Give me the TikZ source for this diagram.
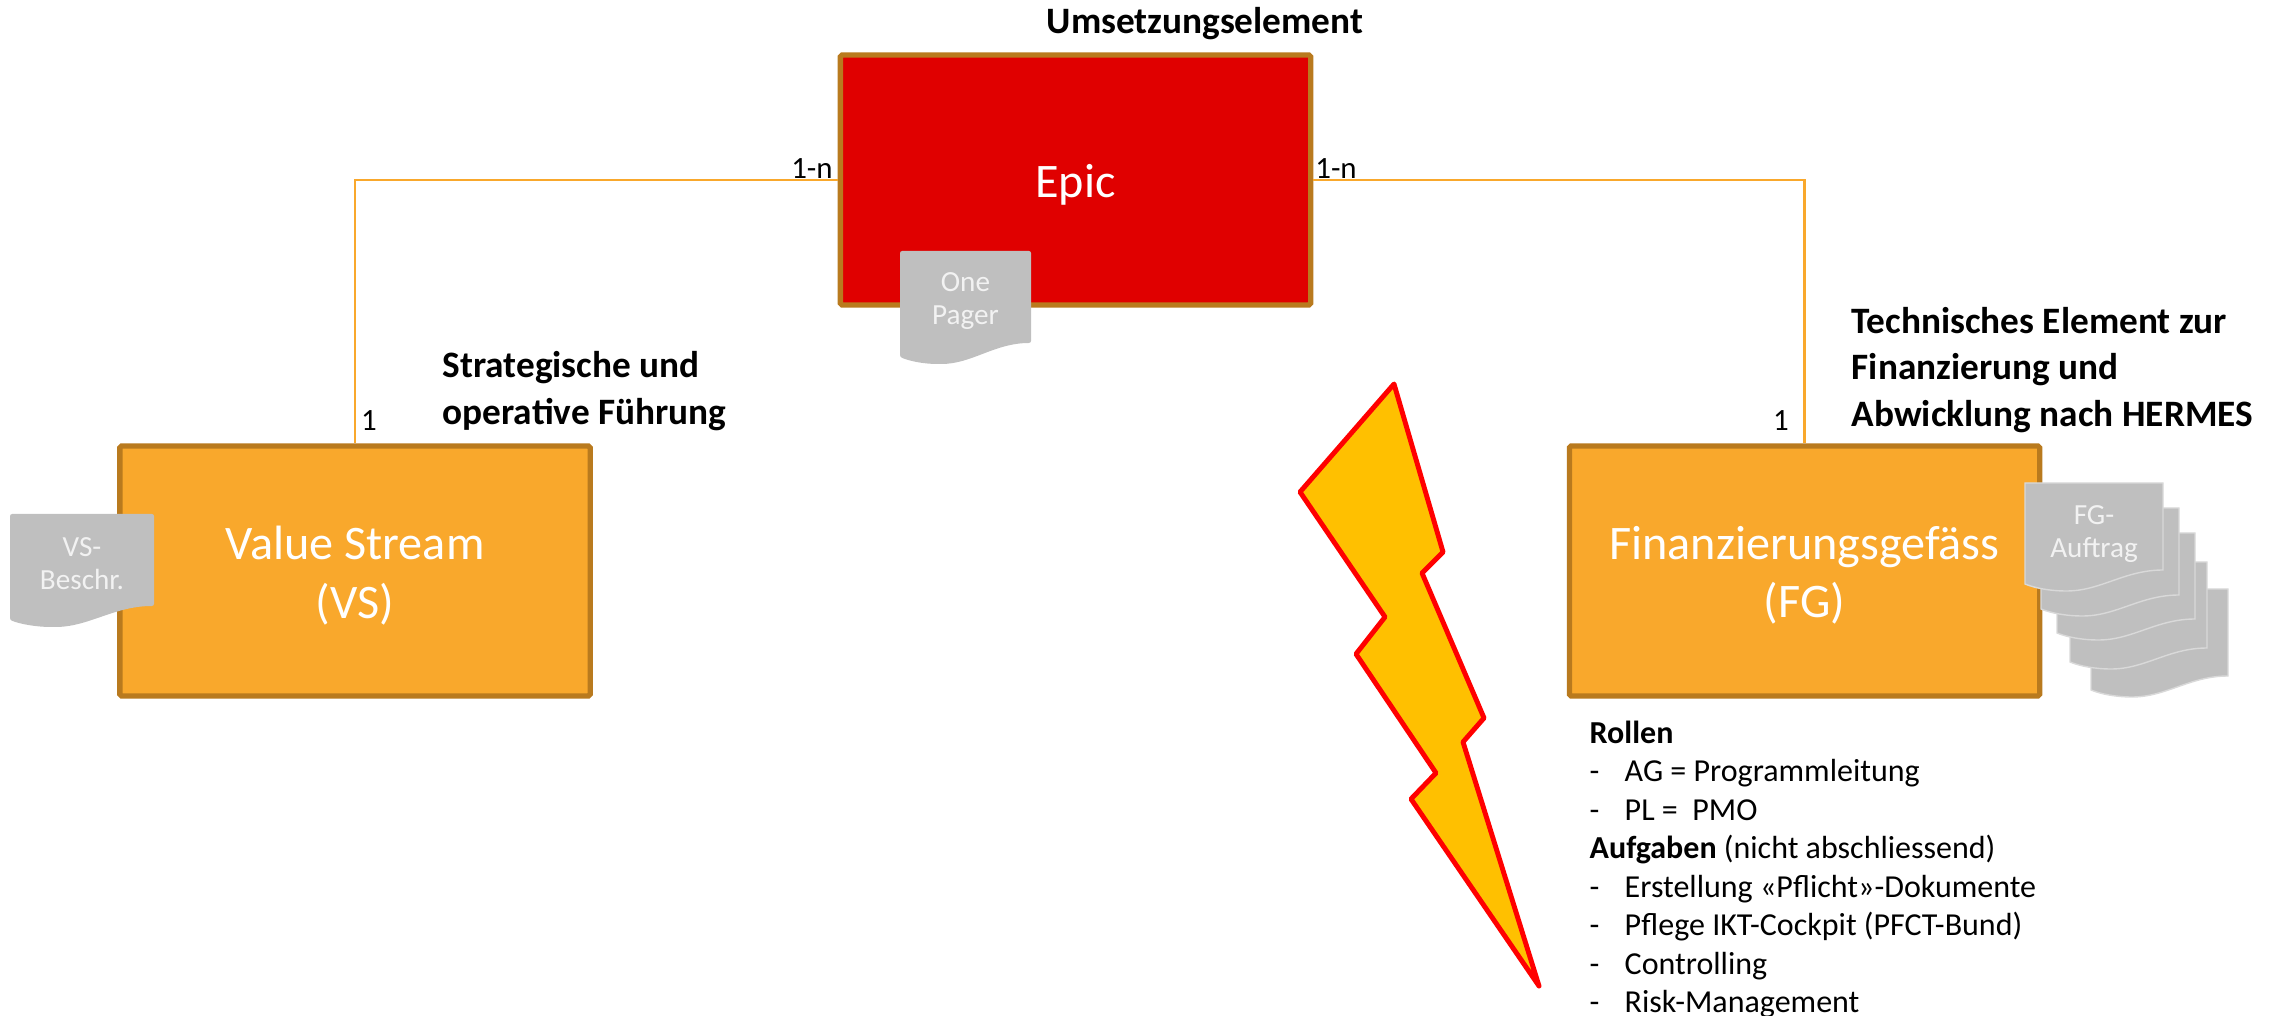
\documentclass[tikz,border=0pt]{standalone}
\usepackage{fontspec}
\setmainfont{Carlito}
\usetikzlibrary{positioning}
\definecolor{boxorange}{HTML}{F9A82C}
\definecolor{boxborder}{HTML}{B97A1E}
\definecolor{boxred}{HTML}{E00000}
\definecolor{sheetgray}{HTML}{BFBFBF}
\definecolor{sheetline}{HTML}{D9D9D9}
\definecolor{boltfill}{HTML}{FFC000}
\tikzset{
	elementbox/.style={draw=boxborder,line width=1.5pt,rounded corners=.5pt,minimum width=4.70cm,minimum height=2.50cm},
	boxtext/.style={align=center,inner sep=0pt,yshift=-1.3pt,text=white,font=\fontsize{13.7}{16.6}\selectfont},
	headline/.style={anchor=west,inner sep=0pt,align=left,font=\fontsize{10.6}{13.2}\selectfont\bfseries},
	sheet/.style={fill=sheetgray,rounded corners=.6pt},
	stacksheet/.style={fill=sheetgray,draw=sheetline,line width=.4pt},
	sheettext/.style={align=center,inner sep=0pt,text=white!95!black,font=\fontsize{8.3}{9.4}\selectfont},
	link/.style={draw=boxorange,line width=.6pt},
	countlabel/.style={inner sep=0pt,font=\fontsize{8.8}{10}\selectfont},
	bolt/.style={draw=red,fill=boltfill,line width=1.4pt,line join=round},
}
% sheet with wavy lower edge: style, left, top, width, height at the right side
\newcommand{\docsheet}[5]{\path[#1,shift={(#2,#3)},x=#4*0.01cm] (0,0) -- (1,0) -- (1,#5) .. controls (.72,#5) and (.55,#5+21) .. (.3,#5+21) .. controls (.18,#5+21) and (.07,#5+18) .. (0,#5+14) -- cycle;}
\newcommand{\listdash}{\makebox[9.96pt][l]{-}}
\begin{document}
\begin{tikzpicture}[x=0.01cm,y=-0.01cm]
	\useasboundingbox (0,0) rectangle (2276,1016);
	\node (epic) at (1075.5,180) [elementbox,fill=boxred,label={[boxtext]center:Epic}] {};
	\node (vs) at (355,571) [elementbox,fill=boxorange,label={[boxtext]center:Value Stream\\(VS)}] {};
	\node (fg) at (1804.5,571) [elementbox,fill=boxorange,label={[boxtext]center:Finanzierungsgefäss\\(FG)}] {};
	\draw[link] (epic.west) -| (vs.north);
	\draw[link] (epic.east) -| (fg.north);
	\node (epiccount) at (812,169) [countlabel] {1-n};
	\node (fgcount) at (1336,169) [countlabel] {1-n};
	\node (vscount) at (369,421) [countlabel] {1};
	\node (fgcounttwo) at (1781,421) [countlabel] {1};
	\node (epictitle) at (1205,24) [headline,anchor=center] {Umsetzungselement};
	\node (vstitle) at (442,391) [headline] {Strategische und\\operative Führung};
	\node (fgtitle) at (1851,370) [headline] {Technisches Element zur\\Finanzierung und\\Abwicklung nach HERMES};
	\docsheet{sheet}{900}{251}{131}{92}
	\node (onepager) at (965.5,301) [sheettext] {One\\Pager};
	\docsheet{sheet}{10}{514}{144}{92}
	\node (vsdoc) at (82,564) [sheettext] {VS-\\Beschr.};
	\docsheet{stacksheet}{2091}{589}{137}{87}
	\docsheet{stacksheet}{2070}{562}{137}{86}
	\docsheet{stacksheet}{2057}{533}{138}{86}
	\docsheet{stacksheet}{2041}{508}{138}{87}
	\docsheet{stacksheet}{2025}{483}{138}{87}
	\node (fgdoc) at (2094,534) [sheettext] {FG-\\Auftrag};
	\draw[bolt] (1394,384) -- (1443,552) -- (1422,573) -- (1484,718) -- (1463,742) -- (1539,986) -- (1411,799) -- (1436,773) -- (1356,654) -- (1385,617) -- (1300,492) -- cycle;
	\node (fgnotes) at (1589,720) [anchor=north west,inner sep=0pt,align=left,font=\fontsize{9.1}{10.95}\selectfont] {\textbf{Rollen}\\
		\listdash AG = Programmleitung\\
		\listdash PL =\ \ PMO\\
		\textbf{Aufgaben} (nicht abschliessend)\\
		\listdash Erstellung «Pflicht»-Dokumente\\
		\listdash Pflege IKT-Cockpit (PFCT-Bund)\\
		\listdash Controlling\\
		\listdash Risk-Management};
\end{tikzpicture}
\end{document}
